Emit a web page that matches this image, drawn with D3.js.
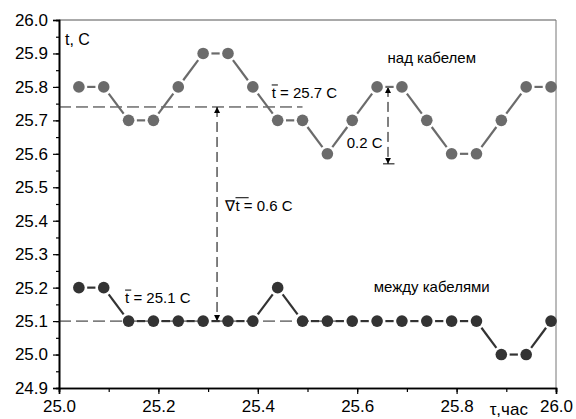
<!DOCTYPE html>
<html>
<head>
<meta charset="utf-8">
<script src="https://cdn.jsdelivr.net/npm/d3@7"></script>
<style>
  body { margin: 0; background: #fff; }
  text { font-family: "Liberation Sans", Arial, sans-serif; }
</style>
</head>
<body>
<svg id="chart" width="576" height="419"></svg>
<script>
// time, hours
const hours = [25.04, 25.09, 25.14, 25.19, 25.24, 25.29, 25.34, 25.39, 25.44, 25.49,
               25.54, 25.59, 25.64, 25.69, 25.74, 25.79, 25.84, 25.89, 25.94, 25.99];
// над кабелем
const aboveCable = [25.8, 25.8, 25.7, 25.7, 25.8, 25.9, 25.9, 25.8, 25.7, 25.7,
                    25.6, 25.7, 25.8, 25.8, 25.7, 25.6, 25.6, 25.7, 25.8, 25.8];
// между кабелями
const betweenCables = [25.2, 25.2, 25.1, 25.1, 25.1, 25.1, 25.1, 25.1, 25.2, 25.1,
                       25.1, 25.1, 25.1, 25.1, 25.1, 25.1, 25.1, 25.0, 25.0, 25.1];
const meanAbove = 25.74;
const meanBetween = 25.1;
const xTicks = [25.0, 25.2, 25.4, 25.6, 25.8, 26.0];
const yTicks = [24.9, 25.0, 25.1, 25.2, 25.3, 25.4, 25.5, 25.6, 25.7, 25.8, 25.9, 26.0];

const svg = d3.select("#chart");
const x = d3.scaleLinear().domain([25.0, 26.0]).range([59, 556]);
const y = d3.scaleLinear().domain([24.9, 26.0]).range([388, 20]);

// frame: top and right in gray
svg.append("line").attr("x1", x(25)).attr("x2", x(26)).attr("y1", y(26)).attr("y2", y(26))
   .attr("stroke", "#555").attr("stroke-width", 1);
svg.append("line").attr("x1", x(26)).attr("x2", x(26)).attr("y1", y(26)).attr("y2", y(24.9))
   .attr("stroke", "#777").attr("stroke-width", 1);

// minor ticks
const xMinor = d3.range(0, 11).map(i => 25 + i * 0.1);
const yMinor = d3.range(0, 23).map(i => 24.9 + i * 0.05);

const xAxis = svg.append("g").attr("transform", "translate(0," + y(24.9) + ")");
xAxis.call(d3.axisBottom(x).tickValues(xMinor).tickSize(4).tickFormat(""));
xAxis.append("g").call(d3.axisBottom(x).tickValues(xTicks).tickSize(6).tickPadding(5)
   .tickFormat(d3.format(".1f")));

const yAxis = svg.append("g").attr("transform", "translate(" + x(25) + ",0)");
yAxis.call(d3.axisLeft(y).tickValues(yMinor).tickSize(3).tickFormat(""));
yAxis.append("g").call(d3.axisLeft(y).tickValues(yTicks).tickSize(6).tickPadding(5)
   .tickFormat(d3.format(".1f")));

svg.selectAll(".domain").attr("stroke", "#000").attr("stroke-width", 1.6);
svg.selectAll(".tick line").attr("stroke", "#000").attr("stroke-width", 1.2);
svg.selectAll(".tick text").attr("font-size", 17).attr("fill", "#000")
   .attr("font-family", "Liberation Sans, Arial, sans-serif");
xAxis.selectAll(".tick text").attr("dy", "0.75em");

svg.append("text").attr("x", x(25.905)).attr("y", y(24.9) + 27)
   .attr("text-anchor", "middle").attr("font-size", 17).text("τ,час");
svg.append("text").attr("x", x(25.012)).attr("y", y(25.99) + 22)
   .attr("font-size", 16).text("t, C");

// mean lines
svg.append("line").attr("x1", x(25.0)).attr("x2", x(25.49))
   .attr("y1", y(meanAbove)).attr("y2", y(meanAbove))
   .attr("stroke", "#222").attr("stroke-width", 1).attr("stroke-dasharray", "12,5");
svg.append("line").attr("x1", x(25.0)).attr("x2", x(25.6))
   .attr("y1", y(meanBetween)).attr("y2", y(meanBetween))
   .attr("stroke", "#222").attr("stroke-width", 1).attr("stroke-dasharray", "12,5");

// arrows
const defs = svg.append("defs");
defs.append("marker").attr("id", "arr").attr("viewBox", "0 0 10 10")
   .attr("refX", 10).attr("refY", 5).attr("markerWidth", 6).attr("markerHeight", 8)
   .attr("markerUnits", "userSpaceOnUse").attr("orient", "auto-start-reverse")
   .append("path").attr("d", "M0,0 L10,5 L0,10 Z").attr("fill", "#000");

function vArrow(xv, y1, y2) {
  svg.append("line").attr("x1", x(xv)).attr("x2", x(xv))
     .attr("y1", y(y1)).attr("y2", y(y2))
     .attr("stroke", "#000").attr("stroke-width", 1).attr("stroke-dasharray", "10,5")
     .attr("marker-start", "url(#arr)").attr("marker-end", "url(#arr)");
}
vArrow(25.318, meanAbove, meanBetween);
vArrow(25.662, 25.8, 25.57);
svg.append("line").attr("x1", x(25.652)).attr("x2", x(25.675))
   .attr("y1", y(25.57)).attr("y2", y(25.57)).attr("stroke", "#000").attr("stroke-width", 1);

// series: segments with gaps round the markers
const r = 5.8, gap = 2.5;
function drawSeries(vals, color) {
  const pts = hours.map((h, i) => [x(h), y(vals[i])]);
  const g = svg.append("g");
  for (let i = 0; i < pts.length - 1; i++) {
    const [x1, y1] = pts[i], [x2, y2] = pts[i + 1];
    const len = Math.hypot(x2 - x1, y2 - y1);
    const ux = (x2 - x1) / len, uy = (y2 - y1) / len;
    const d = r + gap;
    g.append("line").attr("x1", x1 + ux * d).attr("y1", y1 + uy * d)
     .attr("x2", x2 - ux * d).attr("y2", y2 - uy * d)
     .attr("stroke", color).attr("stroke-width", 2.2);
  }
  g.selectAll("circle").data(pts).enter().append("circle")
   .attr("cx", d => d[0]).attr("cy", d => d[1]).attr("r", r).attr("fill", color);
}
drawSeries(aboveCable, "#6b6b6b");
drawSeries(betweenCables, "#333333");

// labels with overlined t
function barLabel(xp, yp, pre, rest) {
  const t = svg.append("text").attr("x", xp).attr("y", yp).attr("font-size", 15);
  const p = t.append("tspan").text(pre);
  const tt = t.append("tspan").text("t");
  t.append("tspan").text(rest);
  const pw = pre ? p.node().getComputedTextLength() : 0;
  const tw = tt.node().getComputedTextLength();
  const extra = pre ? 8 : 1;
  svg.append("line").attr("x1", xp + pw).attr("x2", xp + pw + tw + extra + 1)
     .attr("y1", yp - 13).attr("y2", yp - 13).attr("stroke", "#000").attr("stroke-width", 1);
}
barLabel(x(25.428), y(meanAbove) - 9, "", " = 25.7 C");
barLabel(x(25.133), y(meanBetween) - 18, "", " = 25.1 C");
barLabel(x(25.335), y(25.4) - 10, "∇", " = 0.6 C");

svg.append("text").attr("x", x(25.655) - 2).attr("y", y(25.57) - 16)
   .attr("text-anchor", "end").attr("font-size", 15).text("0.2 C");

svg.append("text").attr("x", x(25.75)).attr("y", y(25.87))
   .attr("text-anchor", "middle").attr("font-size", 15).text("над кабелем");
svg.append("text").attr("x", x(25.75)).attr("y", y(25.187))
   .attr("text-anchor", "middle").attr("font-size", 15).text("между кабелями");
</script>
</body>
</html>
